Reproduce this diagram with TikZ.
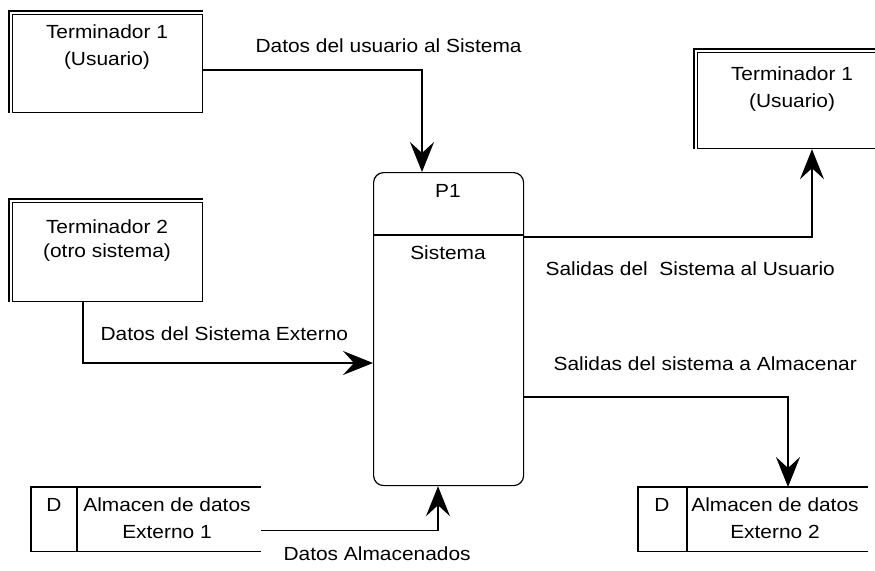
\documentclass[tikz,border=0pt]{standalone}
\usepackage{fontspec}
\setmainfont[FakeStretch=1.1]{Liberation Sans}
\usetikzlibrary{arrows.meta,calc}

\begin{document}
\begin{tikzpicture}[x=1pt,y=-1pt,line width=1.2pt,
  font=\fontsize{19}{24}\selectfont,
  flow/.style={-{Stealth[length=30pt,width=24pt,inset=11pt]}},
  termbox/.style={draw,inner sep=0pt,minimum width=190pt,minimum height=98pt,anchor=north west},
  storebox/.style={inner sep=0pt,minimum height=63pt,anchor=north west},
  txt/.style={inner sep=0pt,anchor=base},
  lbl/.style={inner sep=0pt,anchor=base west}]
\useasboundingbox (0,0) rectangle (875,570);

% terminators (box plus offset top/left edge)
\node[termbox] (t1) at (12,14) {};
\draw ($(t1.south west)+(-3,0)$) |- ($(t1.north east)+(0,-3)$);
\node[txt] (t1a) at (107,38) {Terminador 1};
\node[txt] (t1b) at (107,65) {(Usuario)};

\node[termbox,minimum height=99pt] (t2) at (12,202) {};
\draw ($(t2.south west)+(-3,0)$) |- ($(t2.north east)+(0,-3)$);
\node[txt] (t2a) at (107,233) {Terminador 2};
\node[txt] (t2b) at (107,257) {(otro sistema)};

\node[termbox,minimum height=96pt] (t3) at (697,52) {};
\draw ($(t3.south west)+(-3,0)$) |- ($(t3.north east)+(0,-3)$);
\node[txt] (t3a) at (792,80) {Terminador 1};
\node[txt] (t3b) at (792,107) {(Usuario)};

% process
\node[draw,rounded corners=10pt,inner sep=0pt,minimum width=150pt,minimum height=313pt,anchor=north west] (p1) at (373,172) {};
\draw ($(p1.north west)+(0,63)$) -- ($(p1.north east)+(0,63)$);
\node[txt] (p1a) at (448,197) {P1};
\node[txt] (p1b) at (448,259) {Sistema};

% data stores (open on the right)
\node[storebox,minimum width=229pt] (s1) at (31,487) {};
\draw (s1.north east) -- (s1.north west) -- (s1.south west) -- (s1.south east);
\draw ($(s1.north west)+(46,0)$) -- ($(s1.south west)+(46,0)$);
\node[txt] (s1d) at (54,511) {D};
\node[txt] (s1a) at (167,511) {Almacen de datos};
\node[txt] (s1b) at (167,538) {Externo 1};

\node[storebox,minimum width=229pt] (s2) at (638,487) {};
\draw (s2.north east) -- (s2.north west) -- (s2.south west) -- (s2.south east);
\draw ($(s2.north west)+(49,0)$) -- ($(s2.south west)+(49,0)$);
\node[txt] (s2d) at (662,511) {D};
\node[txt] (s2a) at (775,511) {Almacen de datos};
\node[txt] (s2b) at (775,538) {Externo 2};

% data flows
\draw[flow] ($(t1.north east)+(0,56)$) -| ($(p1.north west)+(49,0)$);
\draw[flow] ($(t2.south west)+(71,0)$) |- ($(p1.north west)+(0,191)$);
\draw[flow] ($(p1.north east)+(0,65)$) -| ($(t3.south west)+(115,0)$);
\draw[flow] ($(p1.north east)+(0,225)$) -| ($(s2.north west)+(150,0)$);
\draw[flow] ($(s1.south east)+(0,-21)$) -| ($(p1.south west)+(65,0)$);

% flow labels
\node[lbl] (l1) at (255,52) {Datos del usuario al Sistema};
\node[lbl] (l2) at (545,275) {Salidas del\ \ Sistema al Usuario};
\node[lbl] (l3) at (100,340) {Datos del Sistema Externo};
\node[lbl] (l4) at (553,370) {Salidas del sistema a Almacenar};
\node[lbl] (l5) at (283,560) {Datos Almacenados};
\end{tikzpicture}
\end{document}
